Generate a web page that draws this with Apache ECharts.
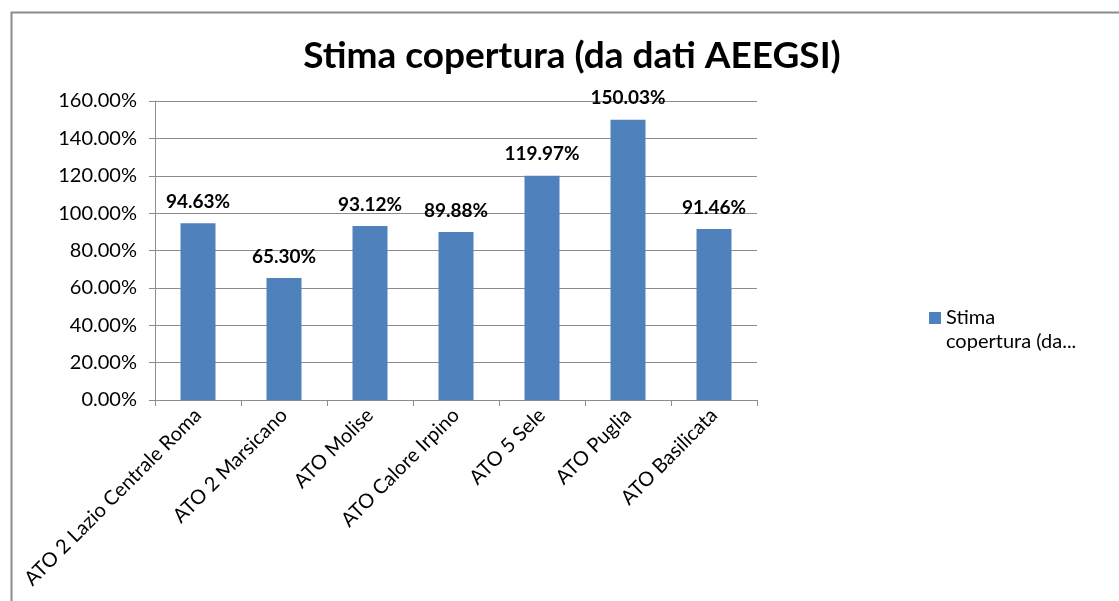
<!DOCTYPE html>
<html style="height: 100%">
<head>
    <meta charset="utf-8">
    <title>Stima copertura</title>
</head>
<body style="height: 100%; margin: 0">
<div id="container" style="width:1119px;height:601px"></div>
<script type="text/javascript" src="https://cdn.jsdelivr.net/npm/echarts@6/dist/echarts.min.js"></script>
<script type="text/javascript">
var categories = ['ATO 2 Lazio Centrale Roma', 'ATO 2 Marsicano', 'ATO Molise', 'ATO Calore Irpino', 'ATO 5 Sele', 'ATO Puglia', 'ATO Basilicata'];
var values = [94.63, 65.30, 93.12, 89.88, 119.97, 150.03, 91.46];
var seriesName = 'Stima copertura (da dati AEEGSI)';

var myChart = echarts.init(document.getElementById('container'));
var font = 'Lato, "Liberation Sans", sans-serif';

var option = {
    animation: false,
    backgroundColor: '#fff',
    textStyle: { fontFamily: font },
    graphic: [{
        type: 'rect',
        left: 9, top: 10,
        shape: { width: 1130, height: 620 },
        style: { fill: 'none', stroke: '#8c8c8c', lineWidth: 2 }
    }],
    title: {
        text: seriesName,
        left: 567, top: 33, textAlign: 'center',
        textStyle: { fontFamily: font, fontSize: 37, fontWeight: 'bold', color: '#000' }
    },
    legend: {
        left: 924, top: 277,
        orient: 'vertical',
        icon: 'rect',
        itemWidth: 12, itemHeight: 12,
        formatter: function () { return ' \nStima\ncopertura (da...'; },
        textStyle: { fontFamily: font, fontSize: 20, color: '#000', lineHeight: 24 }
    },
    grid: { left: 155, right: 362, top: 101, bottom: 201 },
    xAxis: {
        type: 'category',
        data: categories,
        axisLine: { lineStyle: { color: '#8c8c8c' } },
        axisTick: { show: true, length: 6, lineStyle: { color: '#8c8c8c' } },
        axisLabel: { rotate: 45, margin: 12, fontSize: 20, color: '#000', fontFamily: font, interval: 0 }
    },
    yAxis: {
        type: 'value',
        min: 0, max: 160, interval: 20,
        axisLine: { show: true, lineStyle: { color: '#8c8c8c' } },
        axisTick: { show: true, length: 6, lineStyle: { color: '#8c8c8c' } },
        splitLine: { lineStyle: { color: '#8c8c8c' } },
        axisLabel: {
            fontSize: 20, color: '#000', fontFamily: font, margin: 18,
            formatter: function (v) { return v.toFixed(2) + '%'; }
        }
    },
    series: [{
        name: seriesName,
        type: 'bar',
        data: values,
        barWidth: 35,
        itemStyle: { color: '#4F81BD' },
        label: {
            show: true, position: 'top', distance: 12,
            fontFamily: font, fontSize: 19, fontWeight: 'bold', color: '#000',
            formatter: function (p) { return p.value.toFixed(2) + '%'; }
        }
    }]
};
myChart.setOption(option);
</script>
</body>
</html>
